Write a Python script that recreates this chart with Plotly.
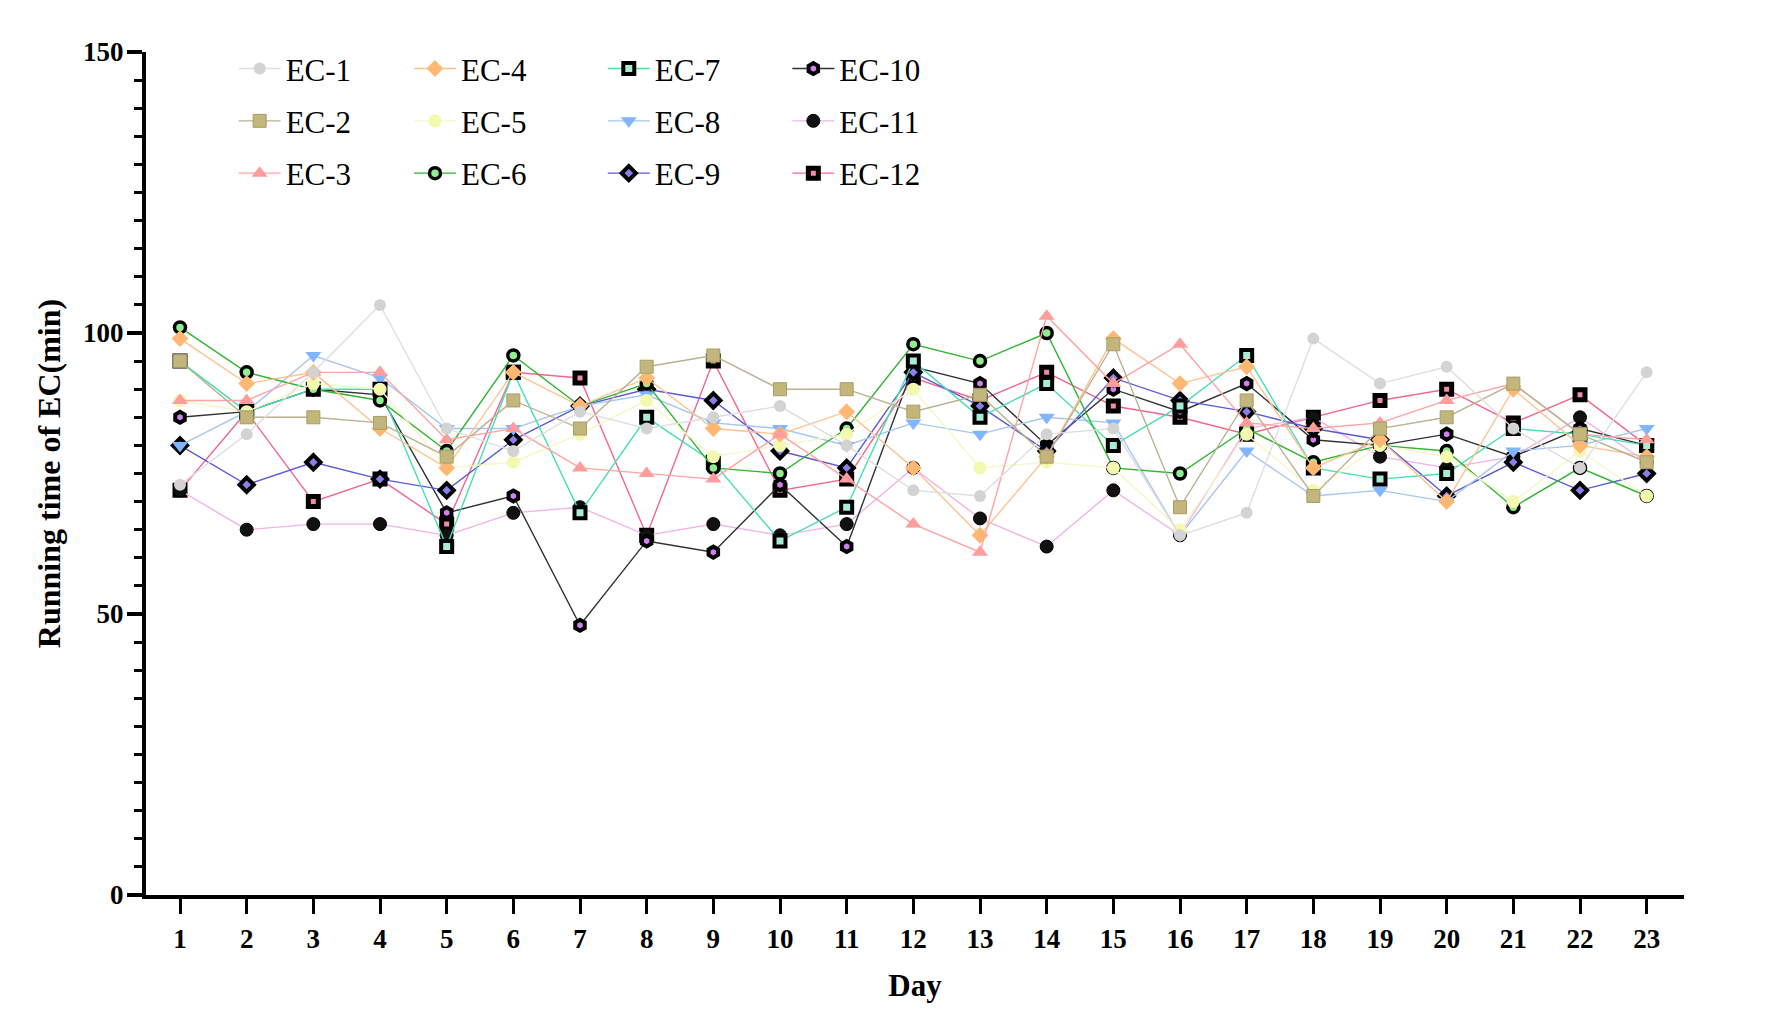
import plotly.graph_objects as go

days = list(range(1, 24))

ec1 = [73, 82, 93, 105, 83, 79, 86, 83, 85, 87, 80, 72, 71, 82, 83, 64, 68, 99, 91, 94, 83, 76, 93]
ec2 = [95, 85, 85, 84, 78, 88, 83, 94, 96, 90, 90, 86, 89, 78, 98, 69, 88, 71, 83, 85, 91, 82, 77]
ec3 = [88, 88, 93, 93, 81, 83, 76, 75, 74, 82, 74, 66, 61, 103, 91, 98, 84, 83, 84, 88, 91, 82, 81]
ec4 = [99, 91, 93, 83, 76, 93, 87, 92, 83, 82, 86, 76, 64, 78, 99, 91, 94, 76, 81, 70, 90, 80, 78]
ec5 = [88, 86, 91, 90, 76, 77, 82, 88, 78, 80, 82, 90, 76, 77, 76, 65, 82, 72, 80, 78, 70, 79, 71]
ec6 = [101, 93, 90, 88, 79, 96, 87, 91, 76, 75, 83, 98, 95, 100, 76, 75, 83, 77, 80, 79, 69, 76, 71]
ec7 = [95, 86, 90, 90, 62, 93, 68, 85, 77, 63, 69, 95, 85, 91, 80, 87, 96, 76, 74, 75, 83, 82, 80]
ec8 = [80, 86, 96, 92, 83, 83, 87, 89, 84, 83, 80, 84, 82, 85, 84, 64, 79, 71, 72, 70, 79, 80, 83]
ec9 = [80, 73, 77, 74, 72, 81, 87, 90, 88, 79, 76, 93, 87, 79, 92, 88, 86, 83, 81, 71, 77, 72, 75]
ec10 = [85, 86, 90, 89, 68, 71, 48, 63, 61, 73, 62, 94, 91, 80, 90, 86, 91, 81, 80, 82, 78, 83, 80]
ec11 = [72, 65, 66, 66, 64, 68, 69, 64, 66, 64, 66, 76, 67, 62, 72, 64, 83, 85, 78, 76, 78, 85, 77]
ec12 = [72, 86, 70, 74, 66, 93, 92, 64, 95, 72, 74, 92, 88, 93, 87, 85, 82, 85, 88, 90, 84, 89, 80]

names = ["EC-1", "EC-2", "EC-3", "EC-4", "EC-5", "EC-6",
         "EC-7", "EC-8", "EC-9", "EC-10", "EC-11", "EC-12"]
series = [ec1, ec2, ec3, ec4, ec5, ec6, ec7, ec8, ec9, ec10, ec11, ec12]

# style per series: (line colour, marker symbol, marker fill, marker size, border colour, border width)
styles = [
    ("#dedede", "circle", "#d3d3d3", 12, "#d3d3d3", 0),
    ("#b9b291", "square", "#c2b67c", 13, "#a89d66", 1),
    ("#ffa3a3", "triangle-up", "#ff9c9c", 14, "#ff9c9c", 0),
    ("#ffc28f", "diamond", "#ffb873", 13, "#ffb873", 0),
    ("#f4f8c6", "circle", "#f3f9ae", 13, "#f3f9ae", 0),
    ("#2fb52f", "circle", "#90ee90", 11, "#000000", 3.5),
    ("#46dfb5", "square", "#a8ecd8", 11, "#000000", 4),
    ("#a6c6f0", "triangle-down", "#80b5ff", 14, "#80b5ff", 0),
    ("#5a5ad8", "diamond", "#8a7fe8", 11, "#000000", 4),
    ("#303030", "hexagon", "#d37ff0", 11, "#000000", 4),
    ("#f2b4e8", "circle", "#111111", 13, "#000000", 1),
    ("#f0688c", "square", "#f08caa", 10, "#000000", 5),
]

legend_of = ["legend", "legend", "legend", "legend2", "legend2", "legend2",
             "legend3", "legend3", "legend3", "legend4", "legend4", "legend4"]

fig = go.Figure()
for i in reversed(range(12)):
    lc, sym, fill, size, bc, bw = styles[i]
    fig.add_trace(go.Scatter(
        x=days, y=series[i], name=names[i], mode="lines+markers",
        line=dict(color=lc, width=1.4),
        marker=dict(symbol=sym, color=fill, size=size,
                    line=dict(color=bc, width=bw)),
        legend=legend_of[i], legendrank=i, legendgroup=names[i],
    ))

leg_font = dict(family="Liberation Serif", size=31, color="black")
leg_common = dict(font=leg_font, bgcolor="rgba(0,0,0,0)", xanchor="left",
                  yanchor="top", y=1.012, tracegroupgap=9, itemwidth=42,
                  orientation="v")
fig.update_layout(
    width=1772, height=1031,
    paper_bgcolor="white", plot_bgcolor="white",
    margin=dict(l=146, r=88, t=52, b=136),
    showlegend=True,
    legend=dict(x=0.057, **leg_common),
    legend2=dict(x=0.171, **leg_common),
    legend3=dict(x=0.297, **leg_common),
    legend4=dict(x=0.417, **leg_common),
    xaxis=dict(
        range=[0.49, 23.56], tickmode="array", tickvals=days,
        ticktext=[str(d) for d in days],
        ticks="outside", ticklen=15, tickwidth=3, tickcolor="black",
        showline=True, linewidth=4, linecolor="black",
        showgrid=False, zeroline=False,
        tickfont=dict(family="Liberation Serif", size=27, color="black", weight="bold"),
        ticklabelstandoff=2,
        title=dict(text="Day", standoff=22,
                   font=dict(family="Liberation Serif", size=31, color="black", weight="bold")),
    ),
    yaxis=dict(
        range=[0, 150], tickmode="linear", tick0=0, dtick=50,
        ticks="outside", ticklen=15, tickwidth=4, tickcolor="black",
        minor=dict(dtick=5, ticks="outside", ticklen=8, tickwidth=3, tickcolor="black"),
        showline=True, linewidth=4, linecolor="black",
        showgrid=False, zeroline=False,
        tickfont=dict(family="Liberation Serif", size=27, color="black", weight="bold"),
        ticklabelstandoff=-2,
        title=dict(text="Running time of EC(min)", standoff=14,
                   font=dict(family="Liberation Serif", size=32, color="black", weight="bold")),
    ),
)

fig.write_html("out.html")
